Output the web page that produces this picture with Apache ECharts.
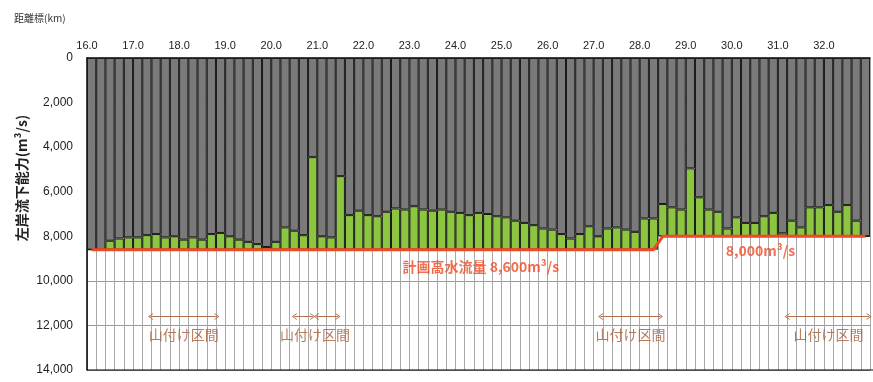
<!DOCTYPE html>
<html>
<head>
<meta charset="utf-8">
<script src="https://cdn.jsdelivr.net/npm/echarts@6/dist/echarts.min.js"></script>
<style>
  html, body { margin: 0; padding: 0; background: #fff; }
  #chart { width: 873px; height: 382px; }
</style>
</head>
<body>
<div id="chart"></div>
<script>
// Distance markers (km), one section every 0.2 km
const kmLabels = [
  '16.0','16.2','16.4','16.6','16.8','17.0','17.2','17.4','17.6','17.8',
  '18.0','18.2','18.4','18.6','18.8','19.0','19.2','19.4','19.6','19.8',
  '20.0','20.2','20.4','20.6','20.8','21.0','21.2','21.4','21.6','21.8',
  '22.0','22.2','22.4','22.6','22.8','23.0','23.2','23.4','23.6','23.8',
  '24.0','24.2','24.4','24.6','24.8','25.0','25.2','25.4','25.6','25.8',
  '26.0','26.2','26.4','26.6','26.8','27.0','27.2','27.4','27.6','27.8',
  '28.0','28.2','28.4','28.6','28.8','29.0','29.2','29.4','29.6','29.8',
  '30.0','30.2','30.4','30.6','30.8','31.0','31.2','31.4','31.6','31.8',
  '32.0','32.2','32.4','32.6','32.8'
];

// Left-bank flow capacity per section (m3/s)
const capacity = [
  8600, 8600, 8200, 8100, 8050, 8050, 7950, 7900, 8050, 8000,
  8150, 8050, 8150, 7900, 7850, 8000, 8150, 8250, 8350, 8480,
  8250, 7600, 7750, 7950, 4450, 8000, 8050, 5300, 7050, 6850,
  7050, 7100, 6900, 6750, 6800, 6650, 6800, 6850, 6800, 6900,
  6950, 7050, 6950, 7000, 7100, 7150, 7300, 7400, 7500, 7650,
  7700, 7900, 8100, 7900, 7550, 8000, 7650, 7600, 7700, 7800,
  7200, 7200, 6550, 6700, 6800, 4950, 6250, 6800, 6900, 7650,
  7150, 7400, 7400, 7100, 6950, 7870, 7300, 7600, 6700, 6700,
  6600, 6900, 6600, 7300, 8000
];

// Design high-water discharge per section (m3/s)
const planFlow = [
  8600, 8600, 8600, 8600, 8600, 8600, 8600, 8600, 8600, 8600,
  8600, 8600, 8600, 8600, 8600, 8600, 8600, 8600, 8600, 8600,
  8600, 8600, 8600, 8600, 8600, 8600, 8600, 8600, 8600, 8600,
  8600, 8600, 8600, 8600, 8600, 8600, 8600, 8600, 8600, 8600,
  8600, 8600, 8600, 8600, 8600, 8600, 8600, 8600, 8600, 8600,
  8600, 8600, 8600, 8600, 8600, 8600, 8600, 8600, 8600, 8600,
  8600, 8600, 8000, 8000, 8000, 8000, 8000, 8000, 8000, 8000,
  8000, 8000, 8000, 8000, 8000, 8000, 8000, 8000, 8000, 8000,
  8000, 8000, 8000, 8000, 8000
];

// Top distance scale ticks and y-axis ticks
const kmTicks = [16, 17, 18, 19, 20, 21, 22, 23, 24, 25, 26, 27, 28, 29, 30, 31, 32];
const yTicks = [0, 2000, 4000, 6000, 8000, 10000, 12000, 14000];

// Mountain-side (山付け) sections: [start km, end km]
const yamaSpans = [[17.38, 18.82], [20.5, 20.9], [20.98, 21.45], [27.15, 28.45], [31.2, 32.98]];
// Labels for those sections: [km, discharge position]
const yamaLabels = [[18.1, 12400], [20.95, 12400], [27.8, 12400], [32.1, 12400]];

// Discharge labels: [km, discharge position, text]
const planLabels = [[24.55, 9380, '計画高水流量 8,600m³/s'], [30.62, 8660, '8,000m³/s']];

const grayPart = capacity.map((c, i) => Math.min(c, planFlow[i]));
const greenPart = capacity.map((c, i) => planFlow[i] - Math.min(c, planFlow[i]));

const chart = echarts.init(document.getElementById('chart'), null, { renderer: 'canvas' });
const baseFont = 'Liberation Sans, Arial, Noto Sans CJK JP, sans-serif';
const jpFont = 'Noto Sans CJK JP, sans-serif';

const chevron = 'path://M5,0 L10,10 L8.6,10 L5,2.8 L1.4,10 L0,10 Z';

chart.setOption({
  animation: false,
  textStyle: { fontFamily: baseFont },
  title: {
    text: '距離標(km)',
    left: 9, top: 8,
    textStyle: { fontSize: 10, fontWeight: 'normal', color: '#333', fontFamily: jpFont }
  },
  grid: { left: 87, top: 58, width: 786, height: 312, containLabel: false },
  xAxis: [
    {
      type: 'category',
      data: kmLabels,
      position: 'top',
      boundaryGap: true,
      axisLine: { show: true, lineStyle: { color: '#000', width: 1.5 } },
      axisTick: { show: false },
      axisLabel: { show: false },
      splitLine: { show: true, interval: 0, lineStyle: { color: '#a8a8a8', width: 1 } }
    },
    {
      type: 'value',
      position: 'top',
      min: 16, max: 33, interval: 1,
      axisLine: { show: false },
      axisTick: { show: false },
      splitLine: { show: false },
      axisLabel: {
        margin: 7,
        fontSize: 11,
        color: '#222',
        formatter: v => (kmTicks.indexOf(v) >= 0 ? v.toFixed(1) : '')
      }
    }
  ],
  yAxis: {
    type: 'value',
    inverse: true,
    min: yTicks[0], max: yTicks[yTicks.length - 1], interval: 2000,
    axisLine: { show: true, lineStyle: { color: '#000', width: 1.5 } },
    axisTick: { show: false },
    axisLabel: {
      margin: 14, fontSize: 12, color: '#222',
      formatter: v => v.toLocaleString('en-US')
    },
    splitLine: { show: true, lineStyle: { color: '#999', width: 1 } }
  },
  graphic: [
    {
      type: 'text',
      x: 22, y: 178,
      rotation: Math.PI / 2,
      style: {
        text: '左岸流下能力(m³/s)',
        fontSize: 14, fontWeight: 'bold',
        fontFamily: jpFont, fill: '#222',
        align: 'center', verticalAlign: 'middle'
      }
    },
    {
      type: 'rect',
      shape: { x: 87, y: 369.5, width: 786, height: 1 },
      style: { fill: '#000' }, z: 10
    }
  ],
  series: [
    {
      name: 'capacity',
      type: 'bar',
      stack: 'flow',
      barCategoryGap: 0,
      data: grayPart,
      itemStyle: { color: '#7a7a7a', borderColor: '#1a1a1a', borderWidth: 1 },
      z: 2
    },
    {
      name: 'shortfall',
      type: 'bar',
      stack: 'flow',
      barCategoryGap: 0,
      data: greenPart,
      itemStyle: { color: '#8CC540', borderColor: '#1a1a1a', borderWidth: 1 },
      z: 2
    },
    {
      name: 'plan',
      type: 'line',
      data: planFlow,
      symbol: 'none',
      lineStyle: { color: '#EF4A24', width: 3 },
      z: 5
    },
    {
      name: 'planText',
      type: 'scatter',
      xAxisIndex: 1,
      symbolSize: 0,
      data: planLabels.map(d => ({ value: [d[0], d[1]], text: d[2] })),
      label: {
        show: true, position: 'inside',
        formatter: p => p.data.text,
        color: '#EF4A24', fontSize: 14, fontWeight: 'bold', fontFamily: jpFont
      },
      z: 6
    },
    {
      name: 'yama',
      type: 'scatter',
      xAxisIndex: 1,
      symbolSize: 0,
      data: yamaLabels,
      label: {
        show: true, position: 'inside',
        formatter: '山付け区間',
        color: '#A65A36', fontSize: 14, fontFamily: jpFont
      },
      markLine: {
        silent: true,
        symbol: [chevron, chevron],
        symbolSize: [7, 5],
        label: { show: false },
        lineStyle: { color: '#B4704E', width: 1, type: 'solid' },
        data: yamaSpans.map(s => [{ coord: [s[0], 11600] }, { coord: [s[1], 11600] }])
      },
      z: 6
    }
  ]
});
</script>
</body>
</html>
